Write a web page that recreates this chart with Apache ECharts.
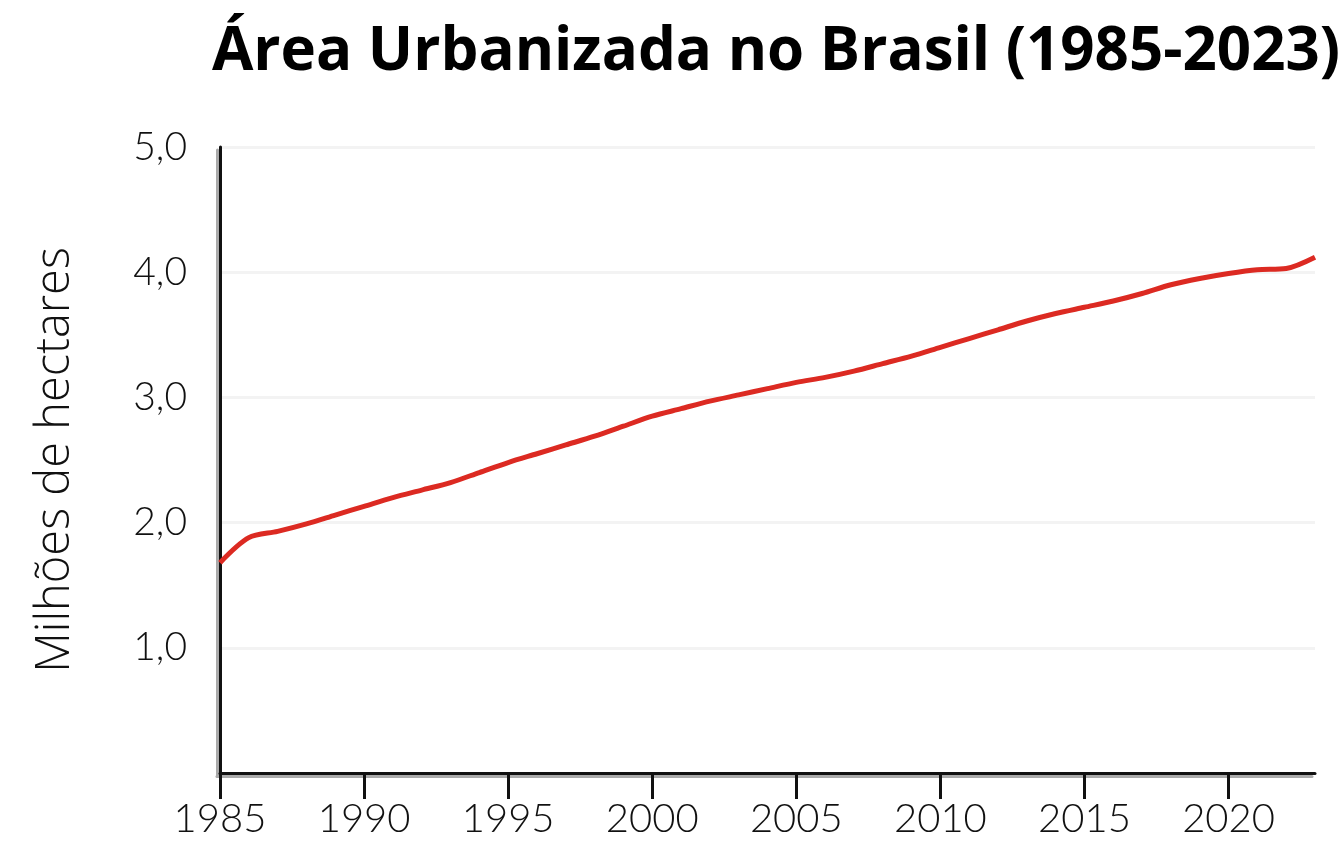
<!DOCTYPE html>
<html>
<head>
<meta charset="UTF-8">
<title>Área Urbanizada no Brasil</title>
<script src="https://cdn.jsdelivr.net/npm/echarts@6/dist/echarts.min.js"></script>
<style>
  html, body { margin: 0; padding: 0; background: #fff; }
  #chart { width: 1342px; height: 850px; }
</style>
</head>
<body>
<div id="chart"></div>
<script>
// anos e área urbanizada (milhões de hectares)
var years = [];
for (var y = 1985; y <= 2023; y++) years.push(String(y));
var area = [1.68, 1.88, 1.93, 1.99, 2.06, 2.13, 2.20, 2.26, 2.32, 2.40,
            2.48, 2.55, 2.62, 2.69, 2.77, 2.85, 2.91, 2.97, 3.02, 3.07,
            3.12, 3.16, 3.21, 3.27, 3.33, 3.40, 3.47, 3.54, 3.61, 3.67,
            3.72, 3.77, 3.83, 3.90, 3.95, 3.99, 4.02, 4.03, 4.12];
var yTicks = [0, 1, 2, 3, 4, 5];

var font = 'Lato';
var chart = echarts.init(document.getElementById('chart'));

var axisLineStyle = {
  color: '#111', width: 3,
  shadowColor: '#aaa', shadowOffsetX: -3, shadowOffsetY: 3, shadowBlur: 0
};

chart.setOption({
  animation: false,
  title: {
    text: 'Área Urbanizada no Brasil (1985-2023)',
    left: 771, top: 18, textAlign: 'center',
    textStyle: { fontFamily: 'Open Sans', fontWeight: 'bold', fontSize: 60, color: '#000' }
  },
  grid: { left: 220, right: 27, top: 147, bottom: 77 },
  xAxis: {
    type: 'category',
    data: years,
    boundaryGap: false,
    axisLine: { lineStyle: axisLineStyle },
    axisTick: {
      interval: function (i) { return i % 5 === 0; },
      length: 26, lineStyle: { color: '#111', width: 3 }
    },
    axisLabel: {
      interval: function (i) { return i % 5 === 0; },
      margin: 26, fontFamily: font, fontWeight: 300, fontSize: 40, color: '#111'
    },
    splitLine: { show: false }
  },
  yAxis: {
    type: 'value',
    min: yTicks[0], max: yTicks[yTicks.length - 1], interval: 1,
    name: 'Milhões de hectares',
    nameLocation: 'middle',
    nameRotate: 90,
    nameGap: 141,
    nameTextStyle: { fontFamily: 'Open Sans', fontWeight: 300, fontSize: 47, color: '#111' },
    axisLine: { show: true, lineStyle: axisLineStyle },
    axisTick: { show: false },
    axisLabel: {
      margin: 33, fontFamily: font, fontWeight: 300, fontSize: 39, color: '#111',
      formatter: function (v) { return v === 0 ? '' : v.toFixed(1).replace('.', ','); }
    },
    splitLine: { lineStyle: { color: '#f3f3f3', width: 3 } }
  },
  series: [{
    type: 'line',
    data: area,
    smooth: 0.3,
    symbol: 'none',
    lineStyle: { color: '#dc2a22', width: 5 }
  }]
});
</script>
</body>
</html>
